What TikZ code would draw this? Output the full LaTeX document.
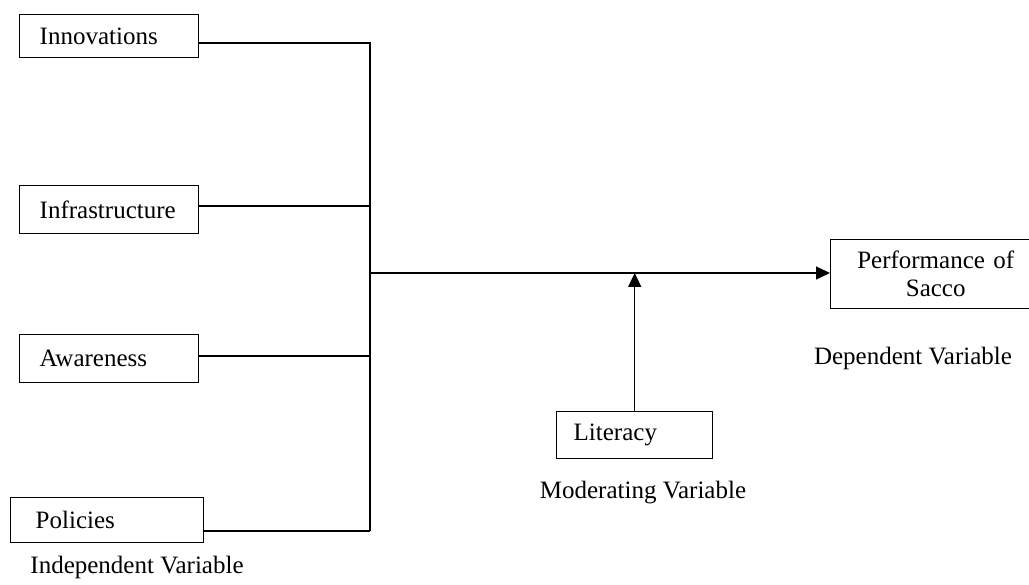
\documentclass[tikz,border=0pt]{standalone}
\usepackage{fontspec}
\setmainfont{Liberation Serif}
\usetikzlibrary{arrows.meta}
\begin{document}
\begin{tikzpicture}[x=1pt,y=-1pt,
  fs/.style={font=\fontsize{25}{28}\selectfont},
  box/.style={draw, line width=1.4pt, inner ysep=0pt, align=left, anchor=north west, fs},
  lbl/.style={inner sep=0pt, fs},
  conn/.style={line width=1.4pt},
  arr/.style={line width=1.4pt, -{Triangle[length=14pt,width=13pt]}}]
\path[use as bounding box, clip] (0,0) rectangle (1029,585);
\fill[white] (0,0) rectangle (1029,585);
% boxes
\node[box, inner xsep=20pt, text width=139pt, minimum height=43pt] (innov) at (19,14) {Innovations};
\node[box, inner xsep=20pt, text width=139pt, minimum height=48pt] (infra) at (19,185) {Infrastructure};
\node[box, inner xsep=20pt, text width=139pt, minimum height=48pt] (aware) at (19,334) {Awareness};
\node[box, inner xsep=25pt, text width=143pt, minimum height=45pt] (pol) at (10,497) {Policies};
\node[box, inner xsep=17pt, text width=122pt, minimum height=47pt] (lit) at (556,411) {Literacy};
\node[box, inner xsep=0pt, text width=210pt, minimum height=69pt, align=center] (perf) at (830,239) {Performance of\\Sacco};
% labels
\node[lbl] (indep) at (137,567) {Independent Variable};
\node[lbl] (moder) at (643,493) {Moderating Variable};
\node[lbl] (dep) at (913,358) {Dependent Variable};
% bus coordinates
\coordinate (b1) at (370,43);
\coordinate (b2) at (370,206);
\coordinate (b3) at (370,356);
\coordinate (b4) at (370,531);
\coordinate (m) at (370,273);
\draw[conn] (innov.east |- b1) -- (b1) -- (b4);
\draw[conn] (infra.east |- b2) -- (b2);
\draw[conn] (aware.east |- b3) -- (b3);
\draw[conn] (pol.east |- b4) -- (b4);
\draw[arr] (m) -- (perf.west |- m);
\draw[arr] (lit.north) -- (lit.north |- m);
\end{tikzpicture}
\end{document}
